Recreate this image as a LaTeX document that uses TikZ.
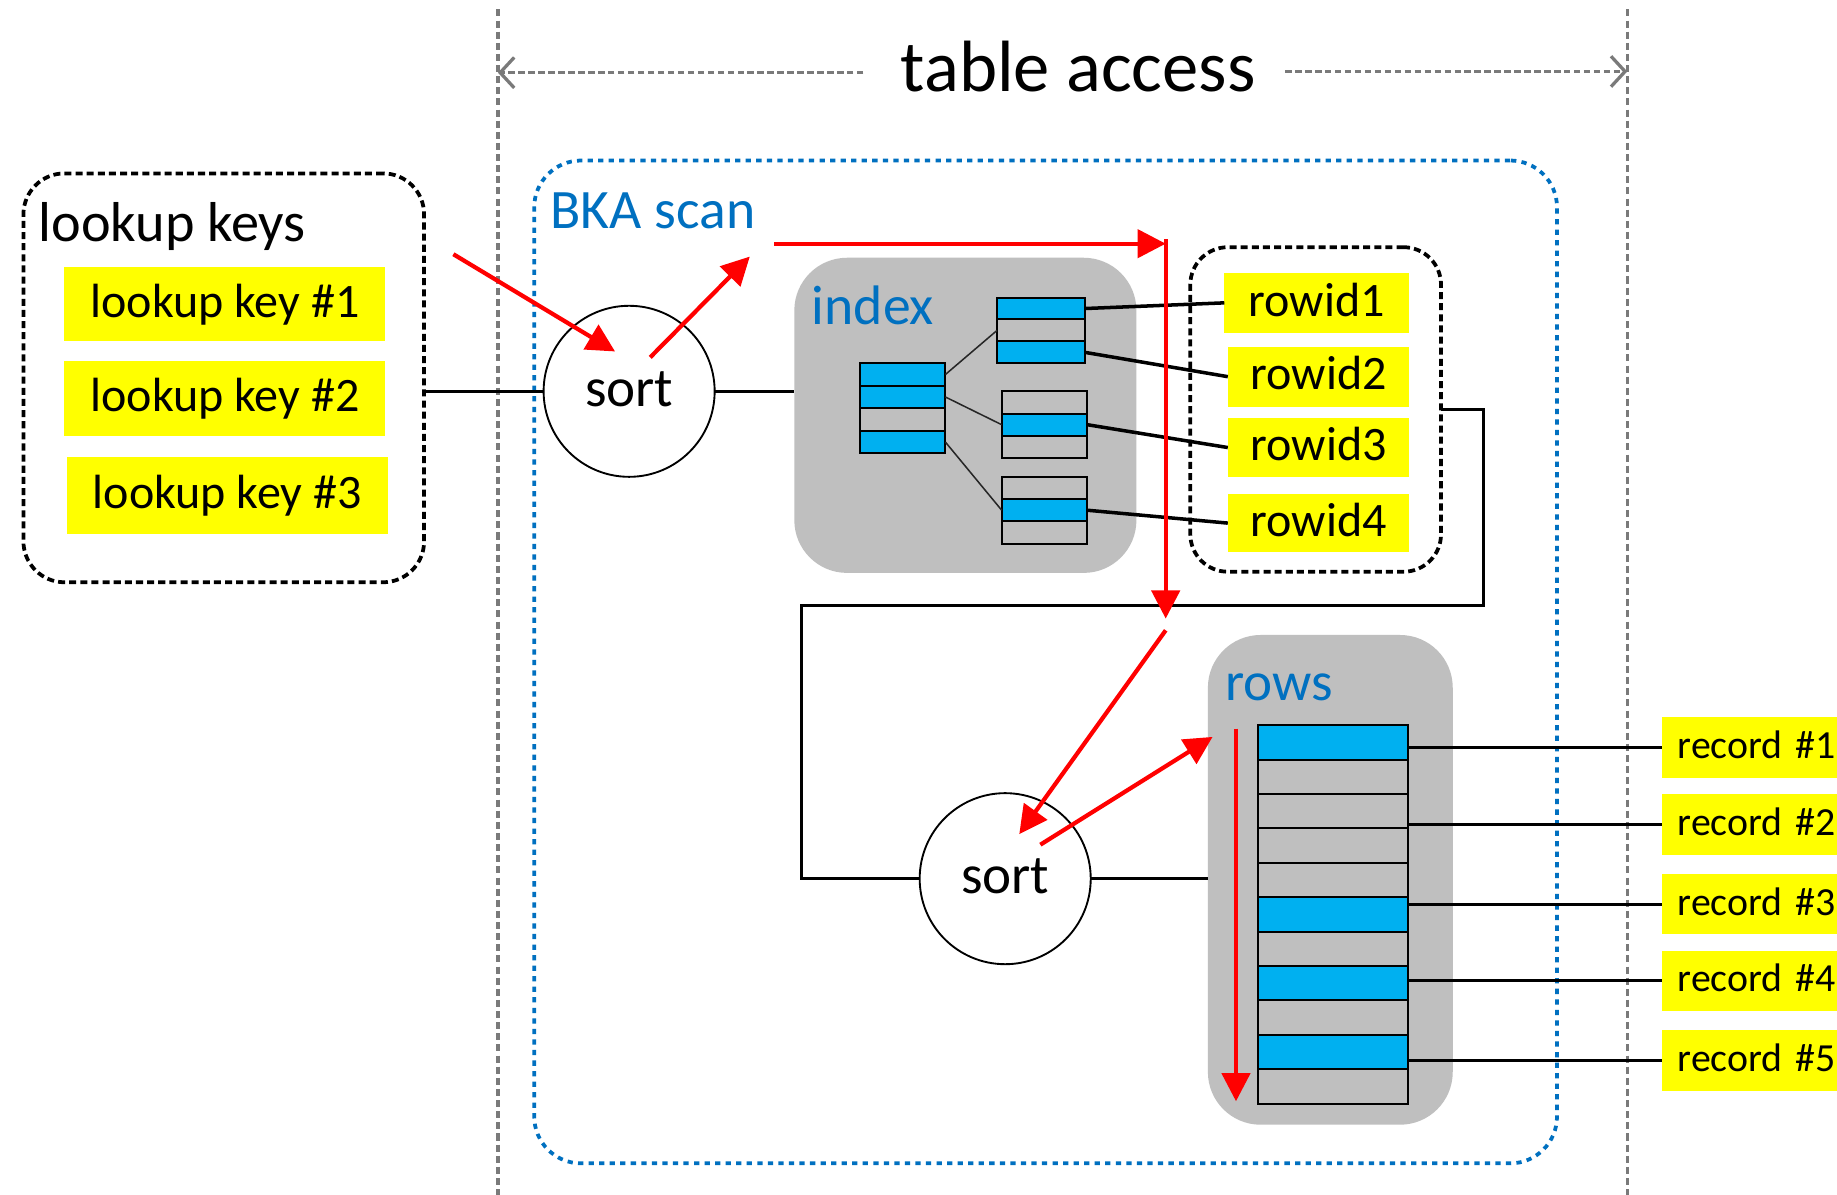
\documentclass[tikz,border=0pt]{standalone}
\usepackage{fontspec}
\setmainfont{Carlito}
\usetikzlibrary{arrows.meta,calc}

\definecolor{cellblue}{HTML}{00B0F0}
\definecolor{panelgray}{HTML}{BFBFBF}
\definecolor{labelblue}{HTML}{0070C0}
\definecolor{guidegray}{HTML}{7A7A7A}
\definecolor{keyyellow}{HTML}{FFFF00}
\definecolor{flowred}{HTML}{FF0000}

\newcommand{\txtsize}[1]{\fontsize{#1pt}{#1pt}\selectfont}

\begin{document}
\begin{tikzpicture}[x=1pt,y=-1pt,
  every node/.style={inner sep=0pt, outer sep=0pt},
  yellowbox/.style={fill=keyyellow},
  keytext/.style={font=\txtsize{41}, text height=30.75pt, text depth=8.2pt},
  cell/.style={draw=black, line width=1.7pt, fill=panelgray, anchor=north west},
  panel/.style={fill=panelgray, rounded corners=45pt},
  dashgroup/.style={draw=black, line width=3.2pt, dash pattern=on 6pt off 3.5pt, rounded corners=35pt},
  link/.style={draw=black, line width=2.6pt},
  treeline/.style={draw=black!85, line width=1.3pt},
  ridline/.style={draw=black, line width=3pt},
  flow/.style={draw=flowred, line width=3.6pt, -{Triangle[length=24pt,width=24pt]}},
  guide/.style={draw=guidegray, line width=2.8pt, dash pattern=on 6pt off 3.5pt},
  span/.style={draw=guidegray, line width=2.8pt, dash pattern=on 5.5pt off 3pt,
    -{Straight Barb[length=12pt,width=26pt,line width=2.8pt]}},
  sortnode/.style={circle, draw=black, line width=1.6pt, minimum size=146pt,
    font=\txtsize{47}, text height=35.25pt, text depth=9.4pt, fill=white},
  hdr/.style={font=\txtsize{48}, text=labelblue, anchor=base west},
]
\fill[white] (0,0) rectangle (1568,1020);
\useasboundingbox (0,0) rectangle (1568,1020);

% guide lines bounding the table-access part
\coordinate (guideLtop) at (425,8);
\coordinate (guideLbot) at (425,1020);
\coordinate (guideRtop) at (1389,8);
\coordinate (guideRbot) at (1389,1020);
\draw[guide] (guideLtop) -- (guideLbot);
\draw[guide] (guideRtop) -- (guideRbot);

\node[font=\txtsize{62}, anchor=base west] (title) at (769,78) {table access};
\coordinate (spanL) at (737,62);
\coordinate (spanR) at (1097,61);
\draw[span] (spanL) -- (spanL -| guideLtop);
\draw[span] (spanR) -- (spanR -| guideRtop);

% BKA scan frame
\node[draw=labelblue, line width=3.2pt, dash pattern=on 4.5pt off 4.5pt,
      rounded corners=40pt, minimum width=873pt, minimum height=856pt] (bka) at (892.5,565) {};
\node[hdr, font=\txtsize{47.5}] (bkalabel) at (470,195) {BKA scan};

% lookup keys group
\node[dashgroup, minimum width=342pt, minimum height=349pt] (keyset) at (191,322.5) {};
\node[font=\txtsize{48}, anchor=base west] (keyslabel) at (33,206) {lookup keys};
\node[yellowbox, keytext, minimum width=274pt, minimum height=63pt] (key1) at (192,259.5) {lookup key \#1};
\node[yellowbox, keytext, minimum width=274pt, minimum height=64pt] (key2) at (192,340) {lookup key \#2};
\node[yellowbox, keytext, minimum width=274pt, minimum height=66pt] (key3) at (194,423) {lookup key \#3};

% index panel with its tree of pages
\node[panel, minimum width=292pt, minimum height=269pt] (indexpanel) at (824,354.5) {};
\node[hdr, font=\txtsize{47.5}] (indexlabel) at (693,277) {index};

\foreach \k/\fc in {1/cellblue,2/cellblue,3/panelgray,4/cellblue}
  \node[cell, fill=\fc, minimum width=73pt, minimum height=19.25pt] (root\k) at (734,{310+(\k-1)*19.25}) {};
\foreach \k/\fc in {1/cellblue,2/panelgray,3/cellblue}
  \node[cell, fill=\fc, minimum width=75pt, minimum height=18.7pt] (leafA\k) at (851,{254+(\k-1)*18.7}) {};
\foreach \k/\fc in {1/panelgray,2/cellblue,3/panelgray}
  \node[cell, fill=\fc, minimum width=73pt, minimum height=19pt] (leafB\k) at (855,{334+(\k-1)*19}) {};
\foreach \k/\fc in {1/panelgray,2/cellblue,3/panelgray}
  \node[cell, fill=\fc, minimum width=73pt, minimum height=19pt] (leafC\k) at (855,{407+(\k-1)*19}) {};

\draw[treeline] (root1.east) -- (leafA2.west);
\draw[treeline] (root2.east) -- (leafB2.west);
\draw[treeline] (root4.east) -- (leafC2.west);

% rowid group
\node[dashgroup, rounded corners=32pt, minimum width=214pt, minimum height=277pt] (rowidset) at (1123,349.5) {};
\node[yellowbox, keytext, minimum width=158pt, minimum height=51pt] (rid1) at (1124,258.5) {rowid1};
\node[yellowbox, keytext, minimum width=155pt, minimum height=51pt] (rid2) at (1125.5,321.5) {rowid2};
\node[yellowbox, keytext, minimum width=155pt, minimum height=51pt] (rid3) at (1125.5,382) {rowid3};
\node[yellowbox, keytext, minimum width=155pt, minimum height=50pt] (rid4) at (1125.5,446.5) {rowid4};

\draw[ridline] (leafA1.east) -- (rid1.west);
\draw[ridline] (leafA3.east) -- (rid2.west);
\draw[ridline] (leafB2.east) -- (rid3.west);
\draw[ridline] (leafC2.east) -- (rid4.west);

% rows panel with the data pages
\node[panel, minimum width=209pt, minimum height=418pt] (rowspanel) at (1135.5,751) {};
\node[hdr, font=\txtsize{47}] (rowslabel) at (1046,598) {rows};
\foreach \k/\fc in {1/cellblue,2/panelgray,3/panelgray,4/panelgray,5/panelgray,6/cellblue,
                    7/panelgray,8/cellblue,9/panelgray,10/cellblue,11/panelgray}
  \node[cell, fill=\fc, minimum width=128pt, minimum height=29.37pt] (rc\k) at (1074,{619+(\k-1)*29.37}) {};

% sort steps
\node[sortnode] (sortA) at (537,334) {sort};
\node[sortnode] (sortB) at (858,750) {sort};

% plain connectors
\draw[link] (keyset.east |- sortA.west) -- (sortA.west);
\draw[link] (sortA.east) -- (sortA.east -| indexpanel.west);
\coordinate (loopturn) at (684,517);
\draw[link] (rowidset.east) -- ++(36,0) |- (loopturn) |- (sortB.west);
\draw[link] (sortB.east) -- (sortB.east -| rowspanel.west);

% fetched records
\foreach \k/\yy in {1/638,2/703.7,3/771.7,4/837.3,5/905.2}{
  \node[fill=keyyellow, font=\txtsize{34}, text height=25.5pt, text depth=6.8pt,
        anchor=west, minimum height=51.5pt,
        text width=149pt, align=left] (rec\k) at (1419,\yy) {\hspace*{13pt}record \#\k};
  \draw[link] (rec\k.west -| rc1.east) -- (rec\k.west);
}

% data flow
\coordinate (inA) at (387,217);    \coordinate (inB) at (525,300);
\coordinate (outA) at (555,305);   \coordinate (outB) at (640,219);
\coordinate (topA) at (661,208);   \coordinate (topB) at (995,208);
\coordinate (downA) at (995,204);  \coordinate (downB) at (995,528);
\coordinate (backA) at (995,538);  \coordinate (backB) at (870,712);
\coordinate (fetchA) at (888,721); \coordinate (fetchB) at (1035,629);
\coordinate (scanA) at (1055,622); \coordinate (scanB) at (1055,940);
\draw[flow] (inA) -- (inB);
\draw[flow] (outA) -- (outB);
\draw[flow] (topA) -- (topB);
\draw[flow] (downA) -- (downB);
\draw[flow] (backA) -- (backB);
\draw[flow] (fetchA) -- (fetchB);
\draw[flow] (scanA) -- (scanB);
\end{tikzpicture}
\end{document}
